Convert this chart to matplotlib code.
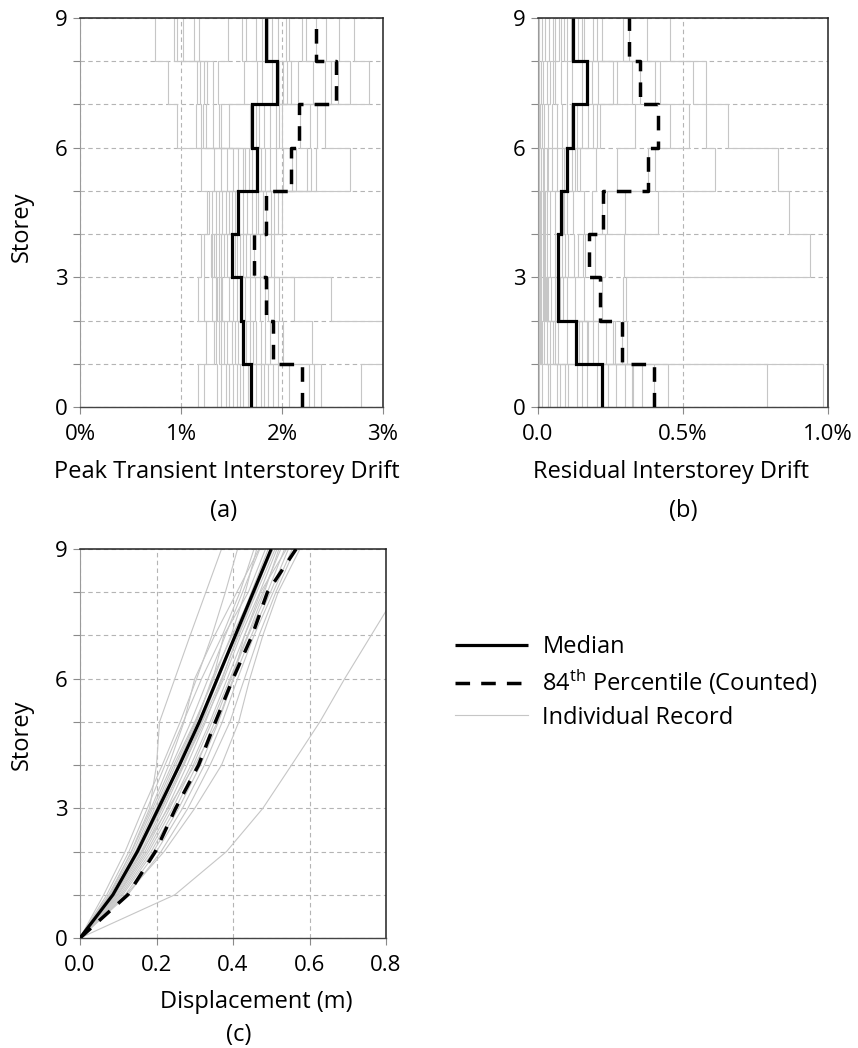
import numpy as np
import matplotlib
matplotlib.use("Agg")
import matplotlib.pyplot as plt

plt.rcParams['font.family'] = ['Open Sans', 'DejaVu Sans']
plt.rcParams['mathtext.fontset'] = 'custom'
plt.rcParams['mathtext.rm'] = 'Open Sans'
plt.rcParams['mathtext.it'] = 'Open Sans:italic'
plt.rcParams['mathtext.bf'] = 'Open Sans:bold'

# ---------------------------------------------------------------- data
levels = list(range(10))                       # floor levels 0..9

# Peak transient interstorey drift (%), one row per storey (1..9), 22 records each
peak_drift = [
    [1.17, 1.23, 1.36, 1.40, 1.45, 1.48, 1.51, 1.55, 1.58, 1.61, 1.66, 1.74, 1.79, 1.82, 1.86, 1.91, 1.96, 2.07, 2.27, 2.32, 2.39, 2.78],
    [1.25, 1.33, 1.35, 1.38, 1.40, 1.43, 1.46, 1.50, 1.53, 1.56, 1.60, 1.64, 1.68, 1.71, 1.74, 1.79, 1.83, 1.88, 1.96, 2.01, 2.30, 3.10],
    [1.17, 1.23, 1.31, 1.35, 1.36, 1.38, 1.40, 1.41, 1.48, 1.51, 1.55, 1.60, 1.63, 1.68, 1.73, 1.78, 1.83, 1.86, 1.92, 1.97, 2.12, 2.49],
    [1.20, 1.23, 1.30, 1.31, 1.33, 1.35, 1.38, 1.40, 1.43, 1.46, 1.50, 1.53, 1.55, 1.58, 1.61, 1.64, 1.68, 1.72, 1.78, 1.83, 1.89, 1.92],
    [1.26, 1.28, 1.31, 1.35, 1.38, 1.41, 1.45, 1.48, 1.50, 1.53, 1.55, 1.61, 1.65, 1.70, 1.74, 1.76, 1.81, 1.84, 1.89, 1.92, 1.96, 2.00],
    [1.20, 1.33, 1.40, 1.46, 1.51, 1.56, 1.61, 1.63, 1.67, 1.70, 1.74, 1.79, 1.83, 1.88, 1.94, 2.01, 2.10, 2.14, 2.25, 2.29, 2.34, 2.67],
    [0.96, 1.15, 1.20, 1.22, 1.25, 1.32, 1.38, 1.40, 1.48, 1.68, 1.70, 1.74, 1.77, 1.82, 1.88, 1.94, 1.97, 2.00, 2.18, 2.28, 2.35, 2.43],
    [0.87, 1.16, 1.19, 1.23, 1.26, 1.32, 1.37, 1.62, 1.75, 1.80, 1.90, 1.97, 2.01, 2.05, 2.09, 2.16, 2.31, 2.43, 2.49, 2.55, 2.67, 2.86],
    [0.74, 0.93, 0.96, 1.02, 1.13, 1.18, 1.47, 1.60, 1.64, 1.74, 1.80, 1.86, 1.90, 1.96, 2.04, 2.07, 2.20, 2.24, 2.34, 2.44, 2.56, 2.71],
]
peak_median = [1.69, 1.61, 1.59, 1.50, 1.56, 1.75, 1.70, 1.95, 1.84]
peak_p84 = [2.20, 1.91, 1.84, 1.72, 1.84, 2.09, 2.17, 2.53, 2.34]

# Residual interstorey drift (%), one row per storey (1..9)
resid_drift = [
    [0.002, 0.013, 0.033, 0.041, 0.064, 0.076, 0.093, 0.105, 0.133, 0.150, 0.168, 0.202, 0.243, 0.270, 0.300, 0.323, 0.329, 0.360, 0.400, 0.449, 0.789, 0.984],
    [0.002, 0.006, 0.010, 0.014, 0.020, 0.030, 0.041, 0.053, 0.059, 0.070, 0.100, 0.140, 0.151, 0.168, 0.174, 0.191, 0.208, 0.235, 0.260, 0.266, 0.288, 0.306],
    [0.002, 0.005, 0.008, 0.012, 0.016, 0.020, 0.024, 0.028, 0.032, 0.036, 0.045, 0.059, 0.068, 0.075, 0.087, 0.100, 0.128, 0.160, 0.191, 0.220, 0.294, 0.302],
    [0.002, 0.005, 0.008, 0.012, 0.016, 0.020, 0.025, 0.030, 0.040, 0.059, 0.068, 0.082, 0.093, 0.105, 0.125, 0.139, 0.156, 0.162, 0.197, 0.231, 0.298, 0.938],
    [0.002, 0.005, 0.008, 0.012, 0.016, 0.020, 0.025, 0.030, 0.041, 0.060, 0.075, 0.085, 0.090, 0.100, 0.120, 0.160, 0.187, 0.220, 0.237, 0.300, 0.415, 0.867],
    [0.002, 0.005, 0.010, 0.016, 0.022, 0.030, 0.036, 0.047, 0.064, 0.082, 0.090, 0.105, 0.116, 0.128, 0.133, 0.145, 0.200, 0.271, 0.380, 0.403, 0.610, 0.826],
    [0.002, 0.008, 0.013, 0.020, 0.036, 0.047, 0.064, 0.082, 0.100, 0.115, 0.125, 0.133, 0.151, 0.174, 0.191, 0.202, 0.214, 0.334, 0.455, 0.522, 0.579, 0.656],
    [0.002, 0.010, 0.018, 0.030, 0.041, 0.053, 0.059, 0.080, 0.100, 0.116, 0.150, 0.170, 0.185, 0.208, 0.260, 0.271, 0.323, 0.350, 0.403, 0.420, 0.536, 0.580],
    [0.005, 0.013, 0.024, 0.038, 0.053, 0.059, 0.072, 0.079, 0.091, 0.100, 0.115, 0.125, 0.139, 0.151, 0.160, 0.191, 0.202, 0.220, 0.294, 0.315, 0.375, 0.455],
]
resid_median = [0.22, 0.13, 0.068, 0.068, 0.08, 0.10, 0.12, 0.17, 0.12]
resid_p84 = [0.40, 0.288, 0.214, 0.177, 0.225, 0.38, 0.415, 0.35, 0.315]

# Peak floor displacement (m) at levels 0..9, one row per record
displacement = [
    [0, 0.078, 0.134, 0.182, 0.200, 0.208, 0.248, 0.288, 0.329, 0.370],
    [0, 0.062, 0.118, 0.165, 0.215, 0.262, 0.305, 0.345, 0.380, 0.412],
    [0, 0.070, 0.128, 0.176, 0.222, 0.270, 0.318, 0.372, 0.418, 0.455],
    [0, 0.075, 0.135, 0.186, 0.232, 0.272, 0.300, 0.352, 0.410, 0.468],
    [0, 0.080, 0.140, 0.190, 0.240, 0.290, 0.335, 0.380, 0.425, 0.470],
    [0, 0.083, 0.145, 0.195, 0.245, 0.300, 0.350, 0.395, 0.432, 0.462],
    [0, 0.085, 0.148, 0.200, 0.250, 0.302, 0.348, 0.376, 0.440, 0.485],
    [0, 0.088, 0.152, 0.208, 0.255, 0.305, 0.345, 0.398, 0.452, 0.498],
    [0, 0.090, 0.155, 0.210, 0.262, 0.310, 0.358, 0.405, 0.448, 0.492],
    [0, 0.092, 0.160, 0.215, 0.268, 0.318, 0.362, 0.408, 0.455, 0.505],
    [0, 0.095, 0.165, 0.220, 0.272, 0.320, 0.370, 0.415, 0.462, 0.510],
    [0, 0.082, 0.150, 0.212, 0.270, 0.325, 0.376, 0.420, 0.470, 0.515],
    [0, 0.098, 0.170, 0.228, 0.280, 0.328, 0.372, 0.412, 0.458, 0.502],
    [0, 0.100, 0.175, 0.235, 0.290, 0.340, 0.385, 0.430, 0.478, 0.525],
    [0, 0.104, 0.180, 0.242, 0.296, 0.345, 0.392, 0.438, 0.482, 0.520],
    [0, 0.108, 0.186, 0.250, 0.305, 0.352, 0.395, 0.440, 0.490, 0.535],
    [0, 0.112, 0.192, 0.258, 0.315, 0.362, 0.402, 0.448, 0.498, 0.545],
    [0, 0.118, 0.200, 0.268, 0.325, 0.372, 0.412, 0.455, 0.505, 0.555],
    [0, 0.125, 0.212, 0.282, 0.340, 0.392, 0.430, 0.468, 0.512, 0.562],
    [0, 0.120, 0.220, 0.300, 0.370, 0.415, 0.444, 0.478, 0.518, 0.575],
    [0, 0.090, 0.162, 0.230, 0.300, 0.360, 0.400, 0.430, 0.472, 0.540],
    [0, 0.248, 0.383, 0.478, 0.553, 0.627, 0.692, 0.761, 0.830, 0.900],
]
disp_median = [0, 0.086, 0.150, 0.205, 0.260, 0.312, 0.359, 0.406, 0.453, 0.500]
disp_p84 = [0, 0.125, 0.197, 0.250, 0.310, 0.354, 0.400, 0.450, 0.490, 0.565]

# ---------------------------------------------------------------- styles
REC = dict(color='#c6c6c6', lw=0.8, zorder=2)
MED = dict(color='black', lw=2.3, zorder=4, solid_joinstyle='miter', solid_capstyle='butt')
P84 = dict(color='black', lw=2.5, zorder=3, dashes=(4.2, 3.2), dash_capstyle='butt')
GRID = '#b4b4b4'
FS_TICK = 16
FS_LAB = 17

W, H = 858, 1048
fig = plt.figure(figsize=(W / 100, H / 100), dpi=100)


def frac_box(x0, x1, ytop, ybot):
    return [x0 / W, 1 - ybot / H, (x1 - x0) / W, (ybot - ytop) / H]


def step_xy(values):
    """Storey-wise constant profile drawn as a vertical step line."""
    v = np.asarray(values, float)
    x = np.repeat(v, 2)
    y = np.repeat(np.arange(len(v) + 1), 2)[1:-1]
    return x, y


def style_axes(ax, xlim, xticks, xlabels):
    ax.set_xlim(*xlim)
    ax.set_ylim(0, 9)
    ax.set_yticks([0, 3, 6, 9])
    ax.set_yticklabels(['0', '3', '6', '9'])
    ax.set_yticks(levels, minor=True)
    ax.set_xticks(xticks)
    ax.set_xticklabels(xlabels)
    ax.yaxis.grid(True, which='both', color=GRID, lw=0.8, ls=(0, (4, 3)), zorder=1)
    ax.xaxis.grid(True, which='major', color=GRID, lw=0.8, ls=(0, (4, 3)), zorder=1)
    ax.set_axisbelow(True)
    ax.tick_params(axis='both', which='both', direction='out', length=5, width=0.8,
                   color='#8a8a8a', labelsize=FS_TICK)
    ax.tick_params(axis='y', which='both', pad=4)
    ax.tick_params(axis='x', which='both', pad=7)
    for side in ('top', 'right'):
        ax.spines[side].set_color('#222222')
        ax.spines[side].set_linewidth(1.1)
    ax.spines['left'].set_color('#9a9a9a')
    ax.spines['left'].set_linewidth(0.8)
    ax.spines['bottom'].set_color('#444444')
    ax.spines['bottom'].set_linewidth(1.0)
    ax.spines['bottom'].set_linestyle((0, (1, 1)))


def draw_drift(ax, table, median, p84):
    per_storey = np.sort(np.asarray(table, float), axis=1)
    for rec in per_storey.T:
        x, y = step_xy(rec)
        ax.plot(x, y, **REC)
    x, y = step_xy(p84)
    ax.plot(x, y, **P84)
    x, y = step_xy(median)
    ax.plot(x, y, **MED)


# (a) peak transient interstorey drift
ax_a = fig.add_axes(frac_box(80, 383, 18, 407))
draw_drift(ax_a, peak_drift, peak_median, peak_p84)
style_axes(ax_a, (0, 3), [0, 1, 2, 3], ['0%', '1%', '2%', '3%'])

# (b) residual interstorey drift
ax_b = fig.add_axes(frac_box(538, 828, 18, 407))
draw_drift(ax_b, resid_drift, resid_median, resid_p84)
style_axes(ax_b, (0, 1.0), [0, 0.5, 1.0], ['0.0', '0.5%', '1.0%'])

# (c) peak floor displacement
ax_c = fig.add_axes(frac_box(80, 386, 549, 938))
for rec in displacement:
    rec_line, = ax_c.plot(rec, levels, **REC)
p84_line, = ax_c.plot(disp_p84, levels, **P84)
med_line, = ax_c.plot(disp_median, levels, **MED)
style_axes(ax_c, (0, 0.8), [0, 0.2, 0.4, 0.6, 0.8], ['0.0', '0.2', '0.4', '0.6', '0.8'])


def ftext(x, y, s, **kw):
    fig.text(x / W, 1 - y / H, s, ha='center', va='center', fontsize=FS_LAB, **kw)


ftext(227, 472, 'Peak Transient Interstorey Drift')
ftext(224, 511, '(a)')
ftext(671, 472, 'Residual Interstorey Drift')
ftext(683, 511, '(b)')
ftext(256, 1002, 'Displacement (m)')
ftext(239, 1035, '(c)')
ftext(22, 227, 'Storey', rotation=90)
ftext(22, 735, 'Storey', rotation=90)

fig.legend([med_line, p84_line, rec_line],
           ['Median', '84$^{\\mathrm{th}}$ Percentile (Counted)', 'Individual Record'],
           loc='upper left', bbox_to_anchor=(455 / W, 1 - 635 / H),
           frameon=False, fontsize=FS_LAB, handlelength=3.1, handletextpad=0.6,
           labelspacing=0.36, borderpad=0, borderaxespad=0)

fig.savefig('out.png', dpi=100)
